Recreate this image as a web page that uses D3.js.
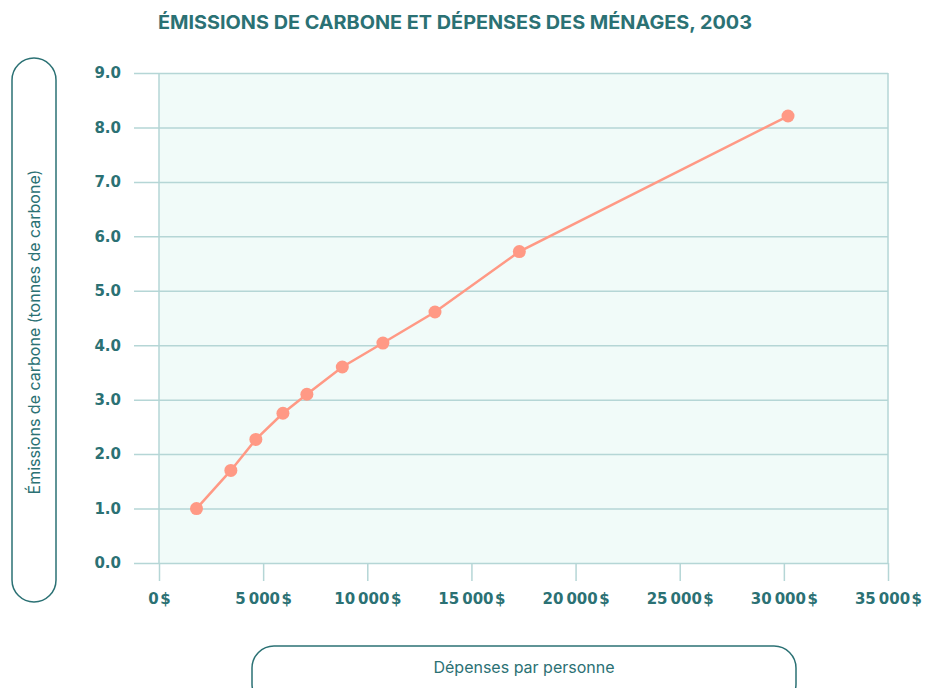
<!DOCTYPE html>
<html>
  <head>
    <meta charset="utf-8">
    <title>Émissions de carbone</title>
    <style>
      body { margin: 0; background: #fff; }
    </style>
  </head>
  <body>
    <svg width="938" height="688"></svg>

    <script src="https://d3js.org/d3.v7.min.js"></script>
    <script>

      // dépenses par personne ($) et émissions (tonnes de carbone)
      var spending = [1800, 3450, 4650, 5950, 7100, 8800, 10750, 13250, 17300, 30200];
      var emissions = [1.0, 1.7, 2.27, 2.75, 3.1, 3.6, 4.04, 4.61, 5.72, 8.21];

      var xTicks = [0, 5000, 10000, 15000, 20000, 25000, 30000, 35000];
      var xTickLabels = ["0\u200a$", "5\u202f000\u200a$", "10\u202f000\u200a$", "15\u202f000\u200a$",
        "20\u202f000\u200a$", "25\u202f000\u200a$", "30\u202f000\u200a$", "35\u202f000\u200a$"];
      var yTicks = [0, 1, 2, 3, 4, 5, 6, 7, 8, 9];
      var yTickLabels = ["0.0", "1.0", "2.0", "3.0", "4.0", "5.0", "6.0", "7.0", "8.0", "9.0"];

      var teal = "#2b7174",
        grid = "#b5d6d6",
        salmon = "#ff9985",
        bodyFont = "Inter, 'Noto Sans', sans-serif",
        tickFont = "'DejaVu Sans', sans-serif";

      var svg = d3.select("svg"),
        margin = { top: 73, right: 50, bottom: 125, left: 159 },
        width = +svg.attr("width"),
        height = +svg.attr("height");

      var x = d3.scaleLinear()
        .domain([0, 35000])
        .range([margin.left, width - margin.right]);

      var y = d3.scaleLinear()
        .domain([0, 9])
        .range([height - margin.bottom, margin.top]);

      // fond du graphique
      svg.append("rect")
        .attr("x", x(0))
        .attr("y", y(9))
        .attr("width", x(35000) - x(0))
        .attr("height", y(0) - y(9))
        .attr("fill", "#f1fbf9");

      // grille horizontale + étiquettes Y
      var yAxis = svg.append("g")
        .attr("transform", "translate(" + x(35000) + ",0)")
        .call(d3.axisLeft(y)
          .tickValues(yTicks)
          .tickSize(x(35000) - x(0) + 25)
          .tickPadding(13)
          .tickFormat(function (d, i) { return yTickLabels[i]; }));
      yAxis.select(".domain").remove();
      yAxis.selectAll("line").attr("stroke", grid).attr("stroke-width", 1.5);
      yAxis.attr("font-family", tickFont).attr("font-size", 15).attr("font-weight", 700);
      yAxis.selectAll("text").attr("fill", teal);

      // traits verticaux + étiquettes X
      var xAxis = svg.append("g")
        .attr("transform", "translate(0," + y(0) + ")")
        .call(d3.axisBottom(x)
          .tickValues(xTicks)
          .tickSize(18)
          .tickPadding(12)
          .tickFormat(function (d, i) { return xTickLabels[i]; }));
      xAxis.select(".domain").remove();
      xAxis.selectAll("line").attr("stroke", grid).attr("stroke-width", 1.5);
      xAxis.attr("font-family", tickFont).attr("font-size", 15).attr("font-weight", 700);
      xAxis.selectAll("text").attr("fill", teal);

      // bordures gauche / droite du graphique
      svg.append("g")
        .selectAll("line")
        .data([0, 35000])
        .enter().append("line")
        .attr("x1", function (d) { return x(d); })
        .attr("x2", function (d) { return x(d); })
        .attr("y1", y(9))
        .attr("y2", y(0))
        .attr("stroke", grid)
        .attr("stroke-width", 1.5);

      var points = spending.map(function (d, i) { return [d, emissions[i]]; });

      svg.append("path")
        .datum(points)
        .attr("fill", "none")
        .attr("stroke", salmon)
        .attr("stroke-width", 2.5)
        .attr("d", d3.line()
          .x(function (d) { return x(d[0]); })
          .y(function (d) { return y(d[1]); }));

      svg.append("g")
        .selectAll("circle")
        .data(points)
        .enter().append("circle")
        .attr("cx", function (d) { return x(d[0]); })
        .attr("cy", function (d) { return y(d[1]); })
        .attr("r", 6.5)
        .attr("fill", salmon);

      // titre
      svg.append("text")
        .attr("x", 455)
        .attr("y", 29)
        .attr("text-anchor", "middle")
        .attr("font-family", bodyFont)
        .attr("fill", teal)
        .attr("font-size", 19)
        .attr("font-weight", 700)
        .attr("textLength", 594)
        .attr("lengthAdjust", "spacingAndGlyphs")
        .text("ÉMISSIONS DE CARBONE ET DÉPENSES DES MÉNAGES, 2003");

      // titre axe Y dans sa pilule
      svg.append("rect")
        .attr("x", 12).attr("y", 58)
        .attr("width", 44).attr("height", 544)
        .attr("rx", 22).attr("ry", 22)
        .attr("fill", "none")
        .attr("stroke", teal)
        .attr("stroke-width", 1.5);
      svg.append("text")
        .attr("transform", "translate(40,332) rotate(-90)")
        .attr("text-anchor", "middle")
        .attr("font-family", bodyFont)
        .attr("fill", teal)
        .attr("font-size", 16)
        .text("Émissions de carbone (tonnes de carbone)");

      // titre axe X dans sa pilule
      svg.append("rect")
        .attr("x", 252).attr("y", 646)
        .attr("width", 544).attr("height", 60)
        .attr("rx", 22).attr("ry", 22)
        .attr("fill", "none")
        .attr("stroke", teal)
        .attr("stroke-width", 1.5);
      svg.append("text")
        .attr("x", 524)
        .attr("y", 673)
        .attr("text-anchor", "middle")
        .attr("font-family", bodyFont)
        .attr("fill", teal)
        .attr("font-size", 16)
        .text("Dépenses par personne");

    </script>
  </body>
</html>
